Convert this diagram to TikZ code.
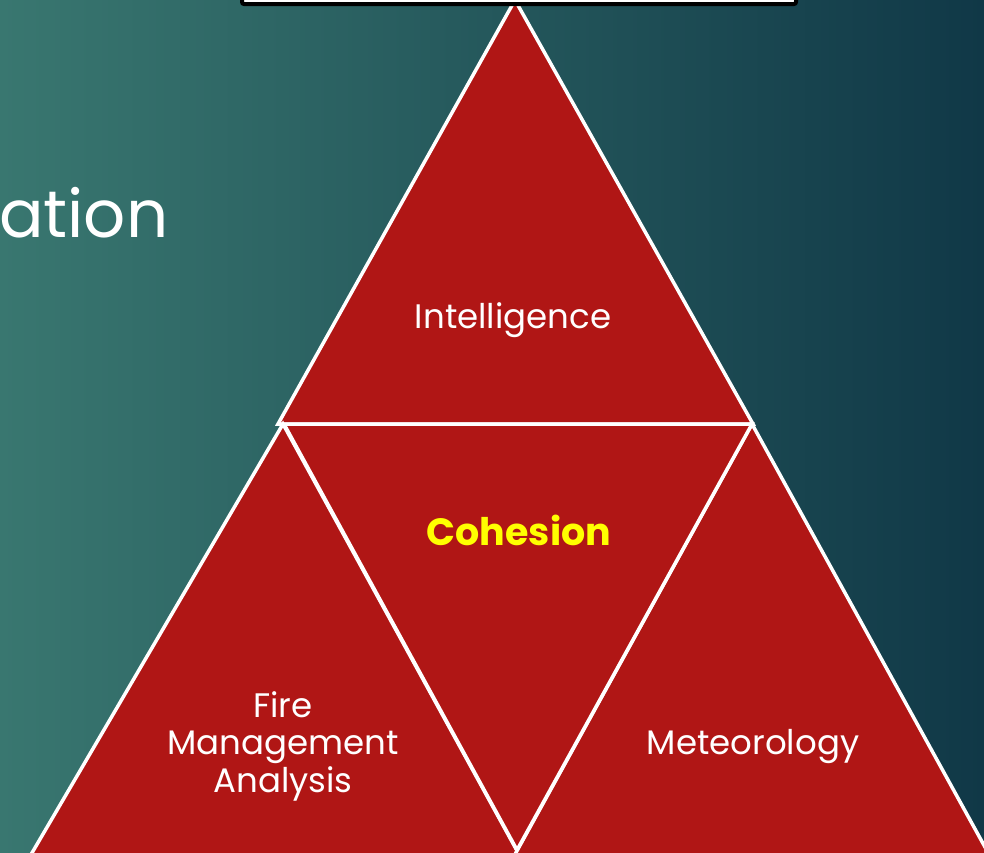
\documentclass[tikz,border=0pt]{standalone}
\usepackage{fontspec}
\setmainfont{Poppins}
\usepackage{xcolor}
\usetikzlibrary{calc}
\definecolor{bgLeft}{HTML}{397770}
\definecolor{bgRight}{HTML}{103847}
\definecolor{triRed}{HTML}{B01615}
\definecolor{cohYellow}{HTML}{FFFF00}

\begin{document}
\begin{tikzpicture}[
    x=1pt, y=-1pt,
    tri/.style={fill=triRed, draw=white, line width=3.5pt, line join=miter},
    lbl/.style={text=white, align=center, font=\fontsize{34}{37.5}\selectfont},
    hub/.style={text=cohYellow, font=\fontsize{38}{40}\selectfont\bfseries},
    heading/.style={text=white, font=\fontsize{66}{76}\selectfont}
]
\useasboundingbox (0,0) rectangle (984,852);
\begin{scope}
\clip (0,0) rectangle (984,852);
% backdrop
\shade[left color=bgLeft, right color=bgRight] (0,0) rectangle (984,852);
\node[heading, anchor=base east] (heading) at (172,237) {cation};
% the four triangles
\draw[tri] (515,0) -- (278,424) -- (753,424) -- cycle;
\draw[tri] (283,424) -- (521,858) -- (29,858) -- cycle;
\draw[tri] (752,424) -- (991,858) -- (513,858) -- cycle;
\draw[tri] (284,424) -- (752,424) -- (517,850) -- cycle;
% title bar above the apex
\draw[black, line width=4pt, fill=white, rounded corners=2pt] (242,-20) rectangle (796,4);
\end{scope}
\node[lbl] (intel) at (513,320) {Intelligence};
\node[hub] (cohesion) at (519,530) {Cohesion};
\node[lbl] (fma) at (283,746) {Fire\\Management\\Analysis};
\node[lbl] (meteo) at (753,746) {Meteorology};
\end{tikzpicture}
\end{document}
